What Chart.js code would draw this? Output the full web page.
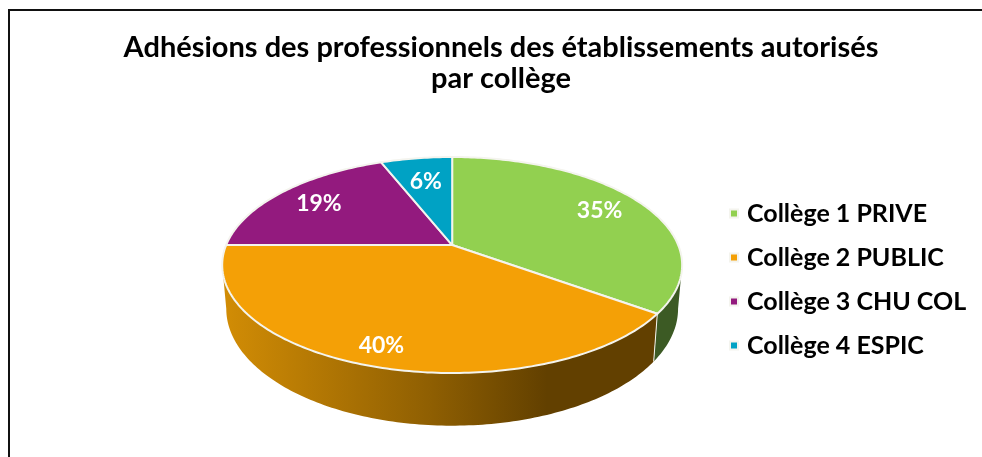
<!DOCTYPE html>
<html lang="fr">
<head>
<meta charset="utf-8">
<title>Adhésions par collège</title>
<script src="https://cdn.jsdelivr.net/npm/chart.js@4"></script>
<style>
    html, body { margin: 0; padding: 0; background: #fff; overflow: hidden; }
    #wrap { position: relative; width: 982px; height: 457px; }
    #frame {
        position: absolute; left: 8px; top: 9px; right: 0; bottom: 0;
        border-left: 2px solid #111; border-top: 2px solid #111;
        pointer-events: none;
    }
</style>
</head>
<body>
<div id="wrap">
    <canvas id="pieChart" width="982" height="457"></canvas>
    <div id="frame"></div>
</div>
<script>
// Data
const titleLines = ['Adhésions des professionnels des établissements autorisés', 'par collège'];
const colleges = ['Collège 1 PRIVE', 'Collège 2 PUBLIC', 'Collège 3 CHU COL', 'Collège 4 ESPIC'];
const shares = [35, 40, 19, 6];
const sliceColors = ['#92d050', '#f4a006', '#931a7e', '#00a2c4'];

const FONT = "Lato, 'Open Sans', sans-serif";

// Perspective of the tilted disc, top face and lower edge of the wall
const TOP_FACE = { a: 226, b: 104.3, dy: 0 };
const LOW_EDGE = { a: 222, b: 113, dy: 42 };
const TILT = 0.185;
const FRONT_FROM = Math.PI - Math.acos(TILT);
const FRONT_TO = Math.PI + Math.acos(TILT);

function project(arc, face, theta, f = 1) {
    const u = f * Math.sin(theta);
    const v = -f * Math.cos(theta);
    const d = 1 - TILT * v;
    return { x: arc.x + face.a * u / d, y: arc.y + face.dy + face.b * v / d };
}

function traceRim(ctx, arc, face, from, to) {
    const steps = Math.max(2, Math.ceil(Math.abs(to - from) * 60));
    for (let i = 0; i <= steps; i++) {
        const p = project(arc, face, from + (to - from) * i / steps);
        ctx.lineTo(p.x, p.y);
    }
}

function wallFill(ctx, index) {
    if (index === 0) return '#3c5a24';
    const g = ctx.createLinearGradient(226, 0, 660, 0);
    g.addColorStop(0, '#d18c05');
    g.addColorStop(0.47, '#8f5f02');
    g.addColorStop(0.74, '#624000');
    g.addColorStop(1, '#624000');
    return g;
}

const pie3d = {
    id: 'pie3d',
    // The library has laid out the arcs; they are drawn here through the tilt
    beforeDatasetDraw(chart, args) {
        const { ctx } = chart;
        const arcs = args.meta.data;
        ctx.save();
        ctx.lineJoin = 'round';

        arcs.forEach((arc, i) => {
            const start = Math.max(arc.startAngle + Math.PI / 2, FRONT_FROM);
            const end = Math.min(arc.endAngle + Math.PI / 2, FRONT_TO);
            if (end <= start) return;
            ctx.beginPath();
            traceRim(ctx, arc, TOP_FACE, start, end);
            traceRim(ctx, arc, LOW_EDGE, end, start);
            ctx.closePath();
            ctx.fillStyle = wallFill(ctx, i);
            ctx.fill();
        });

        // white seam where two slices meet on the wall
        const seam = arcs[0].endAngle + Math.PI / 2;
        const p1 = project(arcs[0], TOP_FACE, seam);
        const p2 = project(arcs[0], LOW_EDGE, seam);
        ctx.beginPath();
        ctx.moveTo(p1.x, p1.y);
        ctx.lineTo(p2.x, p2.y);
        ctx.strokeStyle = '#f4f4ee';
        ctx.lineWidth = 1;
        ctx.stroke();

        arcs.forEach((arc) => {
            ctx.beginPath();
            ctx.moveTo(arc.x, arc.y);
            traceRim(ctx, arc, TOP_FACE, arc.startAngle + Math.PI / 2, arc.endAngle + Math.PI / 2);
            ctx.closePath();
            ctx.fillStyle = arc.options.backgroundColor;
            ctx.fill();
            ctx.strokeStyle = arc.options.borderColor;
            ctx.lineWidth = arc.options.borderWidth;
            ctx.stroke();
        });
        ctx.restore();
        return false;
    },
    afterDatasetsDraw(chart, args, opts) {
        const { ctx } = chart;
        const arcs = chart.getDatasetMeta(0).data;
        ctx.save();
        ctx.fillStyle = '#fff';
        ctx.font = "700 23px " + FONT;
        ctx.textAlign = 'center';
        ctx.textBaseline = 'middle';
        arcs.forEach((arc, i) => {
            const mid = (arc.startAngle + arc.endAngle) / 2 + Math.PI / 2;
            const p = project(arc, TOP_FACE, mid, opts.labelRadius[i]);
            ctx.fillText(shares[i] + '%', p.x, p.y);
        });
        ctx.restore();
    },
    // Title and legend do not sit where the default layout would put them
    afterLayout(chart) {
        const t = chart.titleBlock;
        t.left = 0;
        t.right = 1002;
        const l = chart.legend;
        const w = l.right - l.left;
        l.left = 714.5;
        l.right = 714.5 + w;
        l.top = 182;
    }
};

new Chart(document.getElementById('pieChart'), {
    type: 'pie',
    plugins: [pie3d],
    data: {
        labels: colleges,
        datasets: [{
            data: shares,
            backgroundColor: sliceColors,
            borderColor: '#f4f4ee',
            borderWidth: 2
        }]
    },
    options: {
        responsive: false,
        animation: false,
        layout: { padding: { left: 184, right: 0, top: 0, bottom: 70 } },
        plugins: {
            pie3d: { labelRadius: [0.78, 0.86, 0.77, 0.7] },
            tooltip: { enabled: false },
            title: {
                display: true,
                text: titleLines,
                color: '#000',
                font: { family: FONT, size: 29, weight: '700', lineHeight: 1.07 },
                padding: { top: 32, bottom: 9 }
            },
            legend: {
                position: 'right',
                align: 'start',
                labels: {
                    color: '#000',
                    font: { family: FONT, size: 25, weight: '700', lineHeight: 1.2 },
                    usePointStyle: true,
                    pointStyle: 'rect',
                    boxHeight: 8,
                    boxWidth: 1,
                    padding: 19
                }
            }
        }
    }
});
</script>
</body>
</html>
